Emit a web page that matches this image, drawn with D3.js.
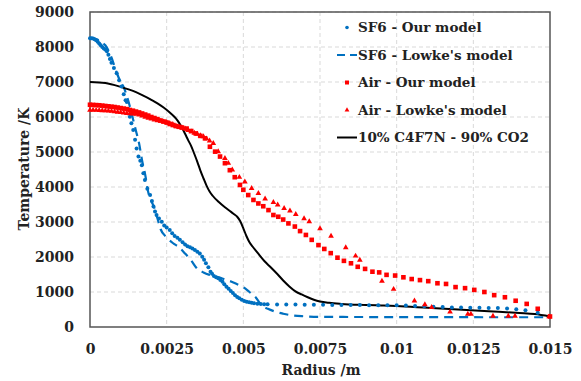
<!DOCTYPE html>
<html>
<head>
<meta charset="utf-8">
<script src="https://cdn.jsdelivr.net/npm/d3@7"></script>
<style>
  body { margin: 0; background: #fff; }
  text { font-family: "DejaVu Serif", serif; font-weight: bold; fill: #222; }
</style>
</head>
<body>
<svg width="581" height="381"></svg>
<script>
// radius (m) and temperature (K)
var sf6OurR = [0,0.00005,0.0001,0.00015,0.0002,0.00025,0.0003,0.00035,0.0004,0.00045,0.0005,0.00055,0.0006,0.00065,0.0007,0.00078,0.00087,0.00095,0.00103,0.0011,0.00116,0.0012,0.00125,0.0013,0.00135,0.00141,0.00147,0.00152,0.00158,0.00164,0.00169,0.00174,0.00179,0.00187,0.00196,0.00202,0.00207,0.00212,0.00217,0.00225,0.00234,0.00242,0.0025,0.0026,0.00268,0.00276,0.00285,0.00293,0.00302,0.0031,0.00318,0.00326,0.00334,0.00342,0.0035,0.00358,0.00366,0.00372,0.00378,0.00386,0.00393,0.00398,0.00404,0.00411,0.00418,0.00425,0.00432,0.00438,0.00445,0.00452,0.00459,0.00466,0.00473,0.0048,0.00487,0.00495,0.00503,0.00511,0.00519,0.00527,0.00535,0.00546,0.00557,0.00568,0.00579,0.0061,0.0064,0.0067,0.007,0.0073,0.0076,0.0079,0.0082,0.0085,0.0088,0.0091,0.0094,0.0097,0.01,0.0103,0.0106,0.0109,0.0112,0.0115,0.0118,0.0121,0.0124,0.0127,0.013,0.0133,0.0136,0.0139,0.0142,0.0146];
var sf6OurT = [8250,8250,8240,8220,8190,8150,8100,8050,8000,7960,7930,7880,7780,7660,7550,7400,7250,7050,6870,6650,6480,6430,6230,6010,5820,5630,5350,5100,4870,4750,4620,4390,4200,3950,3770,3600,3440,3300,3200,3100,3010,2900,2840,2770,2680,2600,2550,2490,2420,2360,2310,2280,2240,2200,2150,2100,2010,1920,1820,1710,1580,1520,1460,1420,1390,1340,1290,1220,1150,1090,1030,970,910,860,820,780,740,720,705,690,680,665,657,652,649,645,642,640,638,636,634,632,630,628,626,624,622,625,620,612,600,590,580,570,560,555,550,548,545,540,530,510,480,410];

var sf6LowkeR = [0,0.0002,0.0004,0.0005,0.0006,0.0007,0.0008,0.0009,0.001,0.0011,0.0012,0.0013,0.0014,0.0015,0.0016,0.0017,0.0018,0.0019,0.002,0.0021,0.0022,0.0023,0.0025,0.0027,0.0029,0.0031,0.0033,0.0035,0.0037,0.0039,0.0042,0.0044,0.0046,0.0048,0.005,0.0052,0.0054,0.0056,0.0058,0.006,0.0063,0.0066,0.007,0.0075,0.009,0.012,0.015];
var sf6LowkeT = [8250,8230,8120,8050,7900,7700,7450,7200,7000,6850,6600,6300,5950,5600,5250,4750,4350,3850,3600,3400,3100,2800,2560,2400,2280,2100,1900,1660,1560,1490,1420,1360,1300,1220,1140,1000,850,620,520,450,380,330,305,290,285,280,278];

var airOurR = [0,0.0001,0.0002,0.0003,0.0004,0.0005,0.0006,0.0007,0.0008,0.0009,0.001,0.0011,0.0012,0.0013,0.0014,0.0015,0.0016,0.0017,0.0018,0.0019,0.002,0.0021,0.0022,0.0023,0.0024,0.0025,0.0026,0.0027,0.0028,0.0029,0.003,0.00315,0.0033,0.00345,0.0036,0.00375,0.00391,0.00408,0.00424,0.0044,0.00456,0.00472,0.00489,0.005,0.00516,0.00533,0.00549,0.00565,0.00582,0.00598,0.00614,0.0063,0.00647,0.00668,0.00685,0.00704,0.00723,0.00745,0.00764,0.00785,0.00807,0.00828,0.00851,0.00873,0.00897,0.00921,0.00943,0.00967,0.00995,0.01022,0.01049,0.01076,0.01103,0.01133,0.01161,0.01192,0.01223,0.01253,0.01286,0.01318,0.01353,0.01388,0.01424,0.0146,0.015];
var airOurT = [6350,6345,6340,6335,6325,6315,6305,6295,6285,6270,6255,6240,6225,6200,6180,6155,6130,6100,6070,6040,6000,5970,5940,5900,5870,5840,5800,5770,5740,5720,5700,5670,5600,5530,5460,5390,5150,5010,4870,4680,4480,4280,4060,3920,3770,3630,3530,3450,3340,3200,3150,3070,2960,2870,2740,2630,2490,2340,2230,2110,1980,1890,1820,1720,1660,1580,1560,1490,1470,1420,1370,1340,1310,1250,1230,1140,1110,1060,1000,910,850,750,660,520,300];

var airLowkeR = [0,0.0001,0.0002,0.0003,0.0004,0.0005,0.0006,0.0007,0.0008,0.0009,0.001,0.0011,0.0012,0.0013,0.0014,0.0015,0.0016,0.0017,0.0018,0.0019,0.002,0.0021,0.0022,0.0023,0.0024,0.0025,0.0026,0.0027,0.0028,0.0029,0.003,0.0031,0.0032,0.0033,0.0034,0.0035,0.0036,0.0037,0.0038,0.0039,0.00402,0.00418,0.0044,0.00451,0.00464,0.00487,0.00505,0.00527,0.00549,0.00571,0.00598,0.00612,0.00633,0.00652,0.00671,0.00698,0.00715,0.0075,0.00786,0.00834,0.00866,0.0088,0.00952,0.0099,0.01058,0.01092,0.01114,0.01174,0.01232,0.01242,0.01314,0.01364,0.01386,0.01497];
var airLowkeT = [6200,6200,6195,6190,6185,6180,6175,6165,6155,6140,6130,6115,6105,6095,6090,6080,6060,6030,6000,5970,5950,5920,5900,5880,5860,5850,5820,5790,5750,5720,5690,5660,5620,5580,5540,5510,5470,5440,5380,5320,5250,5010,4820,4680,4490,4280,4150,3960,3820,3660,3560,3490,3390,3320,3220,3100,3010,2810,2600,2270,2030,1910,1310,1080,750,640,560,430,370,370,314,314,314,294];

var c4f7nR = [0,0.0005,0.001,0.0015,0.002,0.0022,0.0024,0.0026,0.0027,0.0028,0.0029,0.003,0.0031,0.0032,0.0033,0.0034,0.0035,0.0036,0.0037,0.0038,0.0039,0.004,0.0042,0.0044,0.0046,0.0047,0.0048,0.0049,0.005,0.0051,0.0052,0.0053,0.0055,0.0057,0.0059,0.0061,0.0063,0.0065,0.0067,0.0069,0.0071,0.0073,0.0075,0.0078,0.0082,0.009,0.0095,0.01,0.011,0.012,0.013,0.014,0.0145,0.015];
var c4f7nT = [7000,6970,6860,6710,6490,6390,6270,6130,6050,5960,5840,5690,5520,5340,5170,4950,4720,4470,4250,4040,3870,3750,3570,3420,3290,3220,3150,3020,2820,2600,2420,2300,2080,1870,1700,1520,1330,1160,1020,930,850,780,730,690,660,630,615,600,550,500,450,400,370,300];

var xTicks = [0, 0.0025, 0.005, 0.0075, 0.01, 0.0125, 0.015];
var xTickLabels = ["0", "0.0025", "0.005", "0.0075", "0.01", "0.0125", "0.015"];
var yTicks = [0, 1000, 2000, 3000, 4000, 5000, 6000, 7000, 8000, 9000];
var legendNames = ["SF6 - Our model", "SF6 - Lowke's model", "Air - Our model", "Air - Lowke's model", "10% C4F7N - 90% CO2"];

var svg = d3.select("svg");
var mLeft = 90, mRight = 550, mTop = 12, mBottom = 327;

var x = d3.scaleLinear().domain([0, 0.015]).range([mLeft, mRight]);
var y = d3.scaleLinear().domain([0, 9000]).range([mBottom, mTop]);

function pairs(rs, ts) {
  return rs.map(function(r, i) { return [r, ts[i]]; });
}

// grid
svg.append("g").selectAll("line")
  .data(yTicks.slice(1))
  .enter().append("line")
  .attr("x1", mLeft).attr("x2", mRight)
  .attr("y1", function(d) { return y(d); }).attr("y2", function(d) { return y(d); })
  .attr("stroke", "#d9d9d9").attr("stroke-dasharray", "4,3");

svg.append("g").selectAll("line")
  .data(xTicks.slice(1, -1))
  .enter().append("line")
  .attr("y1", mTop).attr("y2", mBottom)
  .attr("x1", function(d) { return x(d); }).attr("x2", function(d) { return x(d); })
  .attr("stroke", "#d9d9d9").attr("stroke-dasharray", "4,3");

// axes
var xAxis = svg.append("g")
  .attr("transform", "translate(0," + mBottom + ")")
  .call(d3.axisBottom(x).tickValues(xTicks).tickSize(0).tickPadding(17)
    .tickFormat(function(d, i) { return xTickLabels[i]; }));
var yAxis = svg.append("g")
  .attr("transform", "translate(" + mLeft + ",0)")
  .call(d3.axisLeft(y).tickValues(yTicks).tickSize(0).tickPadding(16).tickFormat(d3.format("d")));
[xAxis, yAxis].forEach(function(a) {
  a.select(".domain").remove();
  a.selectAll("text").style("font-size", "14px").style("font-family", "DejaVu Serif").style("font-weight", "bold").attr("fill", "#222");
});

// frame
svg.append("rect")
  .attr("x", mLeft).attr("y", mTop).attr("width", mRight - mLeft).attr("height", mBottom - mTop)
  .attr("fill", "none").attr("stroke", "#555").attr("stroke-width", 1.5);

var line = d3.line().x(function(d) { return x(d[0]); }).y(function(d) { return y(d[1]); }).curve(d3.curveMonotoneX);

// SF6 Lowke dashed
svg.append("path")
  .datum(pairs(sf6LowkeR, sf6LowkeT))
  .attr("d", line)
  .attr("fill", "none").attr("stroke", "#0070c0").attr("stroke-width", 2.2)
  .attr("stroke-dasharray", "9,6");

// C4F7N solid
svg.append("path")
  .datum(pairs(c4f7nR, c4f7nT))
  .attr("d", line)
  .attr("fill", "none").attr("stroke", "#000").attr("stroke-width", 2);

// SF6 our model dots
svg.append("g").selectAll("circle")
  .data(pairs(sf6OurR, sf6OurT))
  .enter().append("circle")
  .attr("cx", function(d) { return x(d[0]); })
  .attr("cy", function(d) { return y(d[1]); })
  .attr("r", 2)
  .attr("fill", "#0070c0");

// Air Lowke triangles
var tri = d3.symbol().type(d3.symbolTriangle).size(14);
svg.append("g").selectAll("path")
  .data(pairs(airLowkeR, airLowkeT))
  .enter().append("path")
  .attr("d", tri)
  .attr("transform", function(d) { return "translate(" + x(d[0]) + "," + y(d[1]) + ")"; })
  .attr("fill", "#ff0000");

// Air our model squares
svg.append("g").selectAll("rect")
  .data(pairs(airOurR, airOurT))
  .enter().append("rect")
  .attr("x", function(d) { return x(d[0]) - 2.3; })
  .attr("y", function(d) { return y(d[1]) - 2.3; })
  .attr("width", 4.6).attr("height", 4.6)
  .attr("fill", "#ff0000");

// axis titles
svg.append("text")
  .attr("x", 321).attr("y", 375)
  .attr("text-anchor", "middle")
  .style("font-size", "14px")
  .text("Radius /m");
svg.append("text")
  .attr("transform", "translate(29,169) rotate(-90)")
  .attr("text-anchor", "middle")
  .style("font-size", "14px")
  .text("Temperature /K");

// legend
var legend = svg.append("g");
legendNames.forEach(function(name, i) {
  var ly = 27.5 + i * 27.5;
  var g = legend.append("g");
  if (i === 0) {
    g.append("circle").attr("cx", 347).attr("cy", ly).attr("r", 1.8).attr("fill", "#0070c0");
  } else if (i === 1) {
    g.append("line").attr("x1", 337).attr("x2", 357).attr("y1", ly).attr("y2", ly)
      .attr("stroke", "#0070c0").attr("stroke-width", 2.2).attr("stroke-dasharray", "8,5");
  } else if (i === 2) {
    g.append("rect").attr("x", 345).attr("y", ly - 2).attr("width", 4).attr("height", 4).attr("fill", "#ff0000");
  } else if (i === 3) {
    g.append("path").attr("d", d3.symbol().type(d3.symbolTriangle).size(10))
      .attr("transform", "translate(347," + ly + ")").attr("fill", "#ff0000");
  } else {
    g.append("line").attr("x1", 337).attr("x2", 357).attr("y1", ly).attr("y2", ly)
      .attr("stroke", "#000").attr("stroke-width", 2);
  }
  g.append("text")
    .attr("x", 358).attr("y", ly)
    .attr("dy", "0.35em")
    .style("font-size", "13.5px")
    .text(name);
});
</script>
</body>
</html>
